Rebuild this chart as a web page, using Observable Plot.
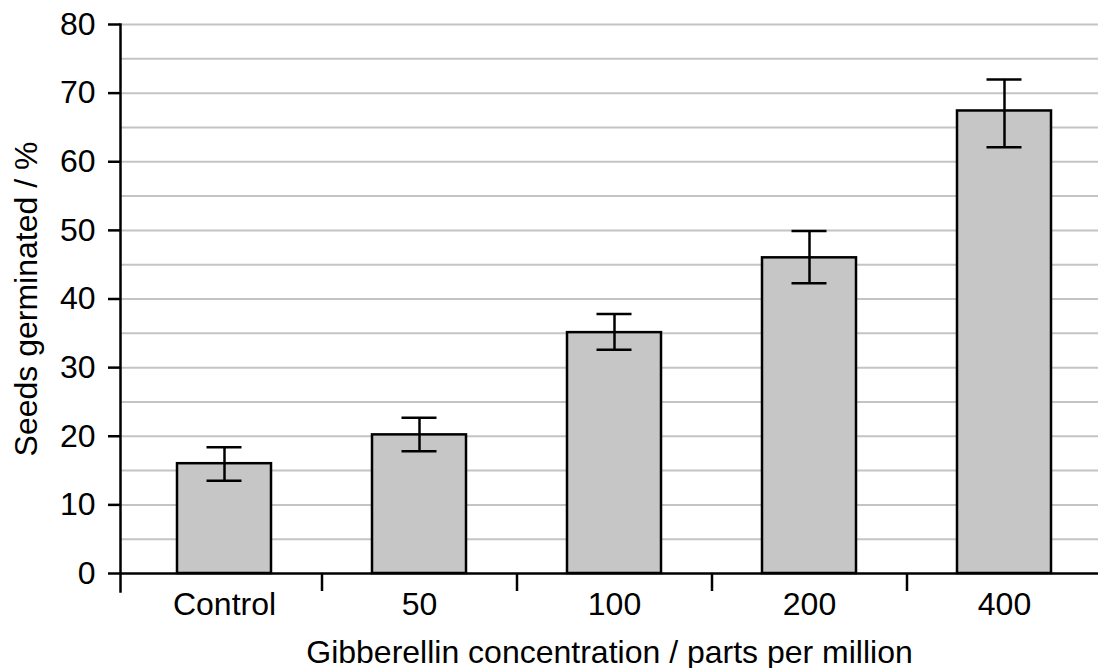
<!DOCTYPE html>
<html><head><meta charset="utf-8">
<script src="https://cdn.jsdelivr.net/npm/d3@7"></script>
<script src="https://cdn.jsdelivr.net/npm/@observablehq/plot@0.6"></script>
<style>body{margin:0;background:#fff}</style>
</head><body><div id="chart"></div>
<script>
const categories = ["Control", "50", "100", "200", "400"];
const germinated = [16.0, 20.2, 35.1, 46.0, 67.4];
const errLow = [13.5, 17.8, 32.6, 42.3, 62.1];
const errHigh = [18.4, 22.7, 37.8, 49.9, 72.0];
const yTicks = [0, 10, 20, 30, 40, 50, 60, 70, 80];
const gridTicks = [5, 10, 15, 20, 25, 30, 35, 40, 45, 50, 55, 60, 65, 70, 75, 80];
const xTitle = "Gibberellin concentration / parts per million";
const yTitle = "Seeds germinated / %";

const data = categories.map((c, i) => ({cat: c, value: germinated[i], lo: errLow[i], hi: errHigh[i]}));

const W = 1098, H = 668, mL = 120, mR = 0, mT = 24, mB = 95;
const xRange = [127, 1102];
const step = (xRange[1] - xRange[0]) / categories.length;
const pxPerUnit = (H - mT - mB) / 80;
const tickLen = 18;

const plot = Plot.plot({
  width: W, height: H,
  marginLeft: mL, marginRight: mR, marginTop: mT, marginBottom: mB,
  style: {fontFamily: "'Liberation Sans', Arial, sans-serif", fontSize: "32px", color: "#000", background: "#fff"},
  x: {domain: categories, range: xRange, paddingInner: 0.517, paddingOuter: 0.2585},
  y: {domain: [0, 80]},
  marks: [
    Plot.ruleY(gridTicks, {stroke: "#c4c4c4", strokeWidth: 2}),
    Plot.barY(data, {x: "cat", y: "value", fill: "#c6c6c6", stroke: "#000", strokeWidth: 2.5}),
    Plot.ruleX(data, {x: "cat", y1: "lo", y2: "hi", stroke: "#000", strokeWidth: 2.5}),
    Plot.tickY(data, {x: "cat", y: "hi", stroke: "#000", strokeWidth: 2.5, insetLeft: 29.5, insetRight: 29.5}),
    Plot.tickY(data, {x: "cat", y: "lo", stroke: "#000", strokeWidth: 2.5, insetLeft: 29.5, insetRight: 29.5}),
    Plot.ruleX(categories.slice(1), {x: d => d, dx: -step / 2, y1: 0, y2: -tickLen / pxPerUnit, stroke: "#000", strokeWidth: 2.5}),
    Plot.ruleY([0], {stroke: "#000", strokeWidth: 2.5}),
    Plot.frame({anchor: "left", stroke: "#000", strokeWidth: 2.5, insetBottom: -tickLen}),
    Plot.axisY(yTicks, {tickSize: 12, tickPadding: 13, strokeWidth: 2.5, label: yTitle, labelAnchor: "center", labelOffset: 106, labelArrow: "none"}),
    Plot.axisX({tickSize: 0, tickPadding: 19, label: xTitle, labelAnchor: "center", labelOffset: 89, labelArrow: "none"})
  ]
});
document.getElementById("chart").appendChild(plot);
</script>
</body></html>
